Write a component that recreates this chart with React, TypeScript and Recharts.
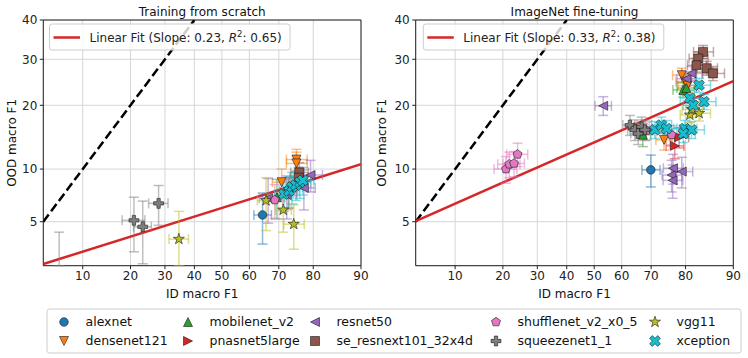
import React from 'react';
import { ScatterChart, Scatter, XAxis, YAxis, CartesianGrid, ErrorBar, ReferenceLine, ReferenceArea } from 'recharts';

type Pt = [number, number, number, number]; // ID F1 %, OOD F1 %, ID err, OOD err

const FONT = '"DejaVu Sans", Verdana, sans-serif';

const xTickLabels = [10, 20, 30, 40, 50, 60, 70, 80, 90];
const yTickLabels = [5, 10, 20, 30, 40];
const xLimits = [5, 90];
const yLimits = [2.57, 40];

const modelNames = ['alexnet', 'densenet121', 'mobilenet_v2', 'pnasnet5large', 'resnet50', 'se_resnext101_32x4d', 'shufflenet_v2_x0_5', 'squeezenet1_1', 'vgg11', 'xception'];
const modelColors = ['#1f77b4', '#ff7f0e', '#2ca02c', '#d62728', '#9467bd', '#8c564b', '#e377c2', '#7f7f7f', '#bcbd22', '#17becf'];
const modelMarkers = ['o', 'v', '^', '>', '<', 's', 'p', 'P', '*', 'X'];

// Training from scratch
const scratchAlexnet: Pt[] = [[64.6, 5.5, 3.0, 1.9]];
const scratchDensenet: Pt[] = [[75.4, 11.2, 3.0, 1.4], [75.4, 10.7, 3.0, 1.5], [70.9, 8.5, 3.0, 1.5]];
const scratchMobilenet: Pt[] = [[69.4, 7.0, 2.5, 1.8]];
const scratchPnasnet: Pt[] = [[73.0, 7.5, 2.5, 1.5]];
const scratchResnet: Pt[] = [[79.3, 9.3, 3.0, 1.8], [77.5, 7.9, 3.0, 2.0], [66.5, 6.9, 3.0, 2.0], [72.5, 7.2, 3.0, 2.0]];
const scratchSeResnext: Pt[] = [[76.2, 9.6, 2.5, 1.2], [76.0, 9.0, 2.5, 1.2]];
const scratchShufflenet: Pt[] = [[68.7, 6.75, 2.5, 1.5]];
const scratchSqueezenet: Pt[] = [[20.9, 5.1, 3.0, 1.9], [23.3, 4.65, 2.5, 2.0], [28.0, 6.45, 3.0, 1.7], [6.7, 2.0, 2.0, 2.3]];
const scratchVgg: Pt[] = [[65.8, 6.7, 3.0, 2.3], [71.4, 5.9, 2.5, 1.6], [74.6, 4.83, 3.0, 1.5], [34.6, 3.88, 3.3, 1.9]];
const scratchXception: Pt[] = [[71.6, 7.3, 3.0, 1.5], [73.2, 7.6, 3.0, 1.5], [74.1, 8.0, 3.0, 1.6], [75.2, 8.2, 3.0, 1.5], [76.4, 8.5, 3.0, 1.6], [77.2, 8.7, 3.0, 1.5]];

// ImageNet fine-tuning
const finetuneAlexnet: Pt[] = [[69.9, 9.9, 2.9, 1.9]];
const finetuneDensenet: Pt[] = [[79.0, 26.3, 2.5, 1.6], [79.9, 24.9, 2.5, 1.5], [74.0, 14.0, 2.5, 1.5], [80.5, 24.0, 2.5, 1.5]];
const finetuneMobilenet: Pt[] = [[79.4, 23.1, 2.8, 1.5], [80.2, 23.5, 2.5, 1.5], [67.3, 14.8, 2.5, 1.8]];
const finetunePnasnet: Pt[] = [[77.1, 13.1, 2.5, 1.8], [78.3, 14.4, 2.5, 1.6]];
const finetuneResnet: Pt[] = [[53.3, 19.9, 3.0, 1.8], [76.2, 9.3, 2.8, 1.8], [76.6, 10.1, 2.8, 1.8], [79.0, 9.7, 2.8, 1.8], [76.5, 8.7, 2.8, 1.8], [80.2, 25.5, 2.5, 1.6], [81.5, 26.7, 2.5, 1.6]];
const finetuneSeResnext: Pt[] = [[84.2, 31.8, 2.2, 1.6], [83.1, 30.2, 2.2, 1.6], [82.7, 28.6, 2.2, 1.6], [85.0, 27.9, 2.2, 1.6], [86.3, 26.7, 2.2, 1.6]];
const finetuneShufflenet: Pt[] = [[20.8, 10.0, 3.0, 1.6], [21.7, 10.6, 3.0, 1.6], [23.0, 10.7, 3.0, 1.6], [24.0, 11.9, 3.0, 1.6], [68.5, 15.5, 2.5, 1.5], [76.2, 14.8, 2.5, 1.5]];
const finetuneSqueezenet: Pt[] = [[62.9, 16.4, 2.5, 1.7], [64.6, 15.6, 2.5, 1.7], [65.7, 15.0, 2.5, 1.7], [66.9, 16.1, 2.5, 1.7], [68.0, 15.6, 2.5, 1.7]];
const finetuneVgg: Pt[] = [[81.1, 18.2, 2.5, 1.4], [83.3, 18.5, 2.5, 1.4], [81.6, 19.2, 2.5, 1.4]];
const finetuneXception: Pt[] = [[83.3, 24.1, 2.5, 1.5], [81.1, 21.4, 2.5, 1.5], [81.9, 20.0, 2.5, 1.5], [84.4, 20.7, 2.5, 1.5], [71.2, 15.6, 3.0, 1.4], [73.2, 16.4, 3.0, 1.4], [74.7, 15.8, 3.0, 1.4], [79.8, 15.8, 3.0, 1.4], [81.5, 15.6, 3.0, 1.4], [79.4, 15.0, 3.0, 1.4]];

const identityLine = [[5, 5], [40, 40]];
const scratchFit = [[5, 2.64], [90, 10.6]];
const finetuneFit = [[5, 5.05], [90, 25.0]];
const scratchFitStats = ['0.23', '0.65'];
const finetuneFitStats = ['0.33', '0.38'];

const scratchSets = [scratchAlexnet, scratchDensenet, scratchMobilenet, scratchPnasnet, scratchResnet, scratchSeResnext, scratchShufflenet, scratchSqueezenet, scratchVgg, scratchXception];
const finetuneSets = [finetuneAlexnet, finetuneDensenet, finetuneMobilenet, finetunePnasnet, finetuneResnet, finetuneSeResnext, finetuneShufflenet, finetuneSqueezenet, finetuneVgg, finetuneXception];

// inverse normal CDF (Acklam)
function probit(pct: number): number {
  const p = Math.min(Math.max(pct, 0.01), 99.99) / 100;
  const a = [-3.969683028665376e1, 2.209460984245205e2, -2.759285104469687e2, 1.38357751867269e2, -3.066479806614716e1, 2.506628277459239];
  const b = [-5.447609879822406e1, 1.615858368580409e2, -1.556989798598866e2, 6.680131188771972e1, -1.328068155288572e1];
  const c = [-7.784894002430293e-3, -3.223964580411365e-1, -2.400758277161838, -2.549732539343734, 4.374664141464968, 2.938163982698783];
  const d = [7.784695709041462e-3, 3.224671290700398e-1, 2.445134137142996, 3.754408661907416];
  const plow = 0.02425;
  if (p < plow) {
    const q = Math.sqrt(-2 * Math.log(p));
    return (((((c[0] * q + c[1]) * q + c[2]) * q + c[3]) * q + c[4]) * q + c[5]) / ((((d[0] * q + d[1]) * q + d[2]) * q + d[3]) * q + 1);
  }
  if (p <= 1 - plow) {
    const q = p - 0.5;
    const r = q * q;
    return ((((((a[0] * r + a[1]) * r + a[2]) * r + a[3]) * r + a[4]) * r + a[5]) * q) / (((((b[0] * r + b[1]) * r + b[2]) * r + b[3]) * r + b[4]) * r + 1);
  }
  const q = Math.sqrt(-2 * Math.log(1 - p));
  return -(((((c[0] * q + c[1]) * q + c[2]) * q + c[3]) * q + c[4]) * q + c[5]) / ((((d[0] * q + d[1]) * q + d[2]) * q + d[3]) * q + 1);
}

const xTicks = xTickLabels.map(probit);
const yTicks = yTickLabels.map(probit);
const xDom = [probit(xLimits[0]), probit(xLimits[1])];
const yDom = [probit(yLimits[0]), probit(yLimits[1])];
const fmt = (ticks: number[], labels: number[]) => (v: number) => {
  const i = ticks.findIndex((t) => Math.abs(t - v) < 1e-6);
  return i >= 0 ? String(labels[i]) : '';
};

// error bars are kept inside the axes limits (the reference clips them at the frame)
const toPoint = ([id, ood, ie, oe]: Pt) => {
  const x = probit(id);
  const y = probit(ood);
  const inY = ood >= yLimits[0] && ood <= yLimits[1];
  const xLo = Math.max(id - ie, xLimits[0]);
  const xHi = Math.min(id + ie, xLimits[1]);
  const yLo = Math.max(ood - oe, yLimits[0]);
  const yHi = Math.min(ood + oe, yLimits[1]);
  return {
    x,
    y,
    ex: inY ? [x - probit(xLo), probit(xHi) - x] : null,
    ey: [y - probit(yLo), probit(yHi) - y],
  };
};

function Marker({ kind, cx, cy, color, size = 9 }: { kind: string; cx: number; cy: number; color: string; size?: number }) {
  const common = { fill: color, stroke: '#1a1a1a', strokeWidth: 0.6 };
  const poly = (pts: number[][], s: number) => (
    <path d={'M' + pts.map(([px, py]) => `${cx + px * s},${cy + py * s}`).join('L') + 'Z'} {...common} />
  );
  const r = size / 2;
  switch (kind) {
    case 'o':
      return <circle cx={cx} cy={cy} r={r * 0.95} {...common} />;
    case 'v':
      return poly([[-1, -1], [1, -1], [0, 1]], r);
    case '^':
      return poly([[-1, 1], [1, 1], [0, -1]], r);
    case '>':
      return poly([[-1, -1], [-1, 1], [1, 0]], r);
    case '<':
      return poly([[1, -1], [1, 1], [-1, 0]], r);
    case 's':
      return poly([[-1, -1], [1, -1], [1, 1], [-1, 1]], r);
    case 'p': {
      const pts = [0, 1, 2, 3, 4].map((k) => {
        const ang = ((-90 + k * 72) * Math.PI) / 180;
        return [Math.cos(ang), Math.sin(ang)];
      });
      return poly(pts, r * 1.05);
    }
    case '*': {
      const pts = Array.from({ length: 10 }, (_, k) => {
        const ang = ((-90 + k * 36) * Math.PI) / 180;
        const rr = k % 2 === 0 ? 1 : 0.381966;
        return [rr * Math.cos(ang), rr * Math.sin(ang)];
      });
      return poly(pts, r * 1.3);
    }
    case 'P':
      return poly([[-1, -3], [1, -3], [1, -1], [3, -1], [3, 1], [1, 1], [1, 3], [-1, 3], [-1, 1], [-3, 1], [-3, -1], [-1, -1]], (size * 1.1) / 6);
    case 'X':
      return poly([[-1, -2], [0, -1], [1, -2], [2, -1], [1, 0], [2, 1], [1, 2], [0, 1], [-1, 2], [-2, 1], [-1, 0], [-2, -1]], (size * 1.2) / 4);
    default:
      return null;
  }
}

const segment = (pts: number[][]) => pts.map(([a, b]) => ({ x: probit(a), y: probit(b) }));

function Panel({ left, margin, sets, fit }: { left: number; margin: any; sets: Pt[][]; fit: number[][] }) {
  const tickStyle = { fill: '#222', fontSize: 12, fontFamily: FONT };
  return (
    <div style={{ position: 'absolute', left, top: 0 }}>
      <ScatterChart width={374} height={300} margin={margin}>
        <CartesianGrid stroke="#d6d6d6" strokeWidth={1} />
        <XAxis
          type="number"
          dataKey="x"
          domain={xDom}
          ticks={xTicks}
          allowDataOverflow
          interval={0}
          tickFormatter={fmt(xTicks, xTickLabels)}
          height={30}
          tickSize={3.5}
          tickMargin={2.5}
          axisLine={false}
          tickLine={{ stroke: '#222' }}
          tick={tickStyle}
        />
        <YAxis
          type="number"
          dataKey="y"
          domain={yDom}
          ticks={yTicks}
          allowDataOverflow
          interval={0}
          tickFormatter={fmt(yTicks, yTickLabels)}
          width={38}
          tickSize={3.5}
          tickMargin={2.5}
          axisLine={false}
          tickLine={{ stroke: '#222' }}
          tick={tickStyle}
        />
        <ReferenceLine segment={segment(identityLine)} stroke="#000" strokeWidth={2.5} strokeDasharray="9 4" ifOverflow="hidden" />
        <ReferenceLine segment={segment(fit)} stroke="#d62728" strokeWidth={2.5} ifOverflow="hidden" />
        {sets.map((data, i) => (
          <Scatter
            key={modelNames[i]}
            name={modelNames[i]}
            data={data.map(toPoint)}
            isAnimationActive={false}
            shape={(p: any) => <Marker kind={modelMarkers[i]} cx={p.cx} cy={p.cy} color={modelColors[i]} />}
          >
            <ErrorBar dataKey="ex" direction="x" width={5} stroke={modelColors[i]} strokeOpacity={0.5} strokeWidth={1.5} isAnimationActive={false} />
            <ErrorBar dataKey="ey" direction="y" width={5} stroke={modelColors[i]} strokeOpacity={0.5} strokeWidth={1.5} isAnimationActive={false} />
          </Scatter>
        ))}
        <ReferenceArea x1={xDom[0]} x2={xDom[1]} y1={yDom[0]} y2={yDom[1]} fill="none" fillOpacity={0} stroke="#222" strokeWidth={1} ifOverflow="visible" />
      </ScatterChart>
    </div>
  );
}

function FitLegend({ x, stats }: { x: number; stats: string[] }) {
  return (
    <g>
      <rect x={x} y={24} width={240.5} height={26} rx={2.5} fill="#fff" fillOpacity={0.8} stroke="#cccccc" strokeWidth={1} />
      <line x1={x + 4} x2={x + 30.5} y1={37.5} y2={37.5} stroke="#d62728" strokeWidth={2.5} />
      <text x={x + 40} y={42} fontSize={12} fill="#222">
        {`Linear Fit (Slope: ${stats[0]}, `}
        <tspan fontStyle="italic">R</tspan>
        <tspan fontSize={8.5} dy={-5}>2</tspan>
        <tspan dy={5}>{`: ${stats[1]})`}</tspan>
      </text>
    </g>
  );
}

const legendCols = [64, 188, 315, 496, 655];
const legendRows = [322, 341];

export default function App() {
  return (
    <div style={{ position: 'absolute', left: 0, top: 0, width: 748, height: 358, background: '#fff', overflow: 'hidden' }}>
      <Panel left={0} margin={{ top: 20, right: 13, bottom: 4.3, left: 5.3 }} sets={scratchSets} fit={scratchFit} />
      <Panel left={374} margin={{ top: 20, right: 14.7, bottom: 4.3, left: 3.7 }} sets={finetuneSets} fit={finetuneFit} />
      <svg width={748} height={358} style={{ position: 'absolute', left: 0, top: 0, pointerEvents: 'none' }} fontFamily={FONT}>
        <text x={202.2} y={15.5} textAnchor="middle" fontSize={12} fill="#111">Training from scratch</text>
        <text x={574.5} y={15.5} textAnchor="middle" fontSize={12} fill="#111">ImageNet fine-tuning</text>
        <text x={202.2} y={297.5} textAnchor="middle" fontSize={12} fill="#111">ID macro F1</text>
        <text x={574.5} y={297.5} textAnchor="middle" fontSize={12} fill="#111">ID macro F1</text>
        <text transform="translate(16,142.9) rotate(-90)" textAnchor="middle" fontSize={12} fill="#111">OOD macro F1</text>
        <text transform="translate(386,142.9) rotate(-90)" textAnchor="middle" fontSize={12} fill="#111">OOD macro F1</text>
        <FitLegend x={49.5} stats={scratchFitStats} />
        <FitLegend x={423.3} stats={finetuneFitStats} />
        <rect x={47} y={309} width={694} height={44} rx={2.5} fill="#fff" stroke="#cccccc" strokeWidth={1} />
        {modelNames.map((name, i) => {
          const cx = legendCols[Math.floor(i / 2)];
          const cy = legendRows[i % 2];
          return (
            <g key={name}>
              <Marker kind={modelMarkers[i]} cx={cx} cy={cy} color={modelColors[i]} />
              <text x={cx + 21.5} y={cy + 4.4} fontSize={12.5} fill="#111">{name}</text>
            </g>
          );
        })}
      </svg>
    </div>
  );
}
